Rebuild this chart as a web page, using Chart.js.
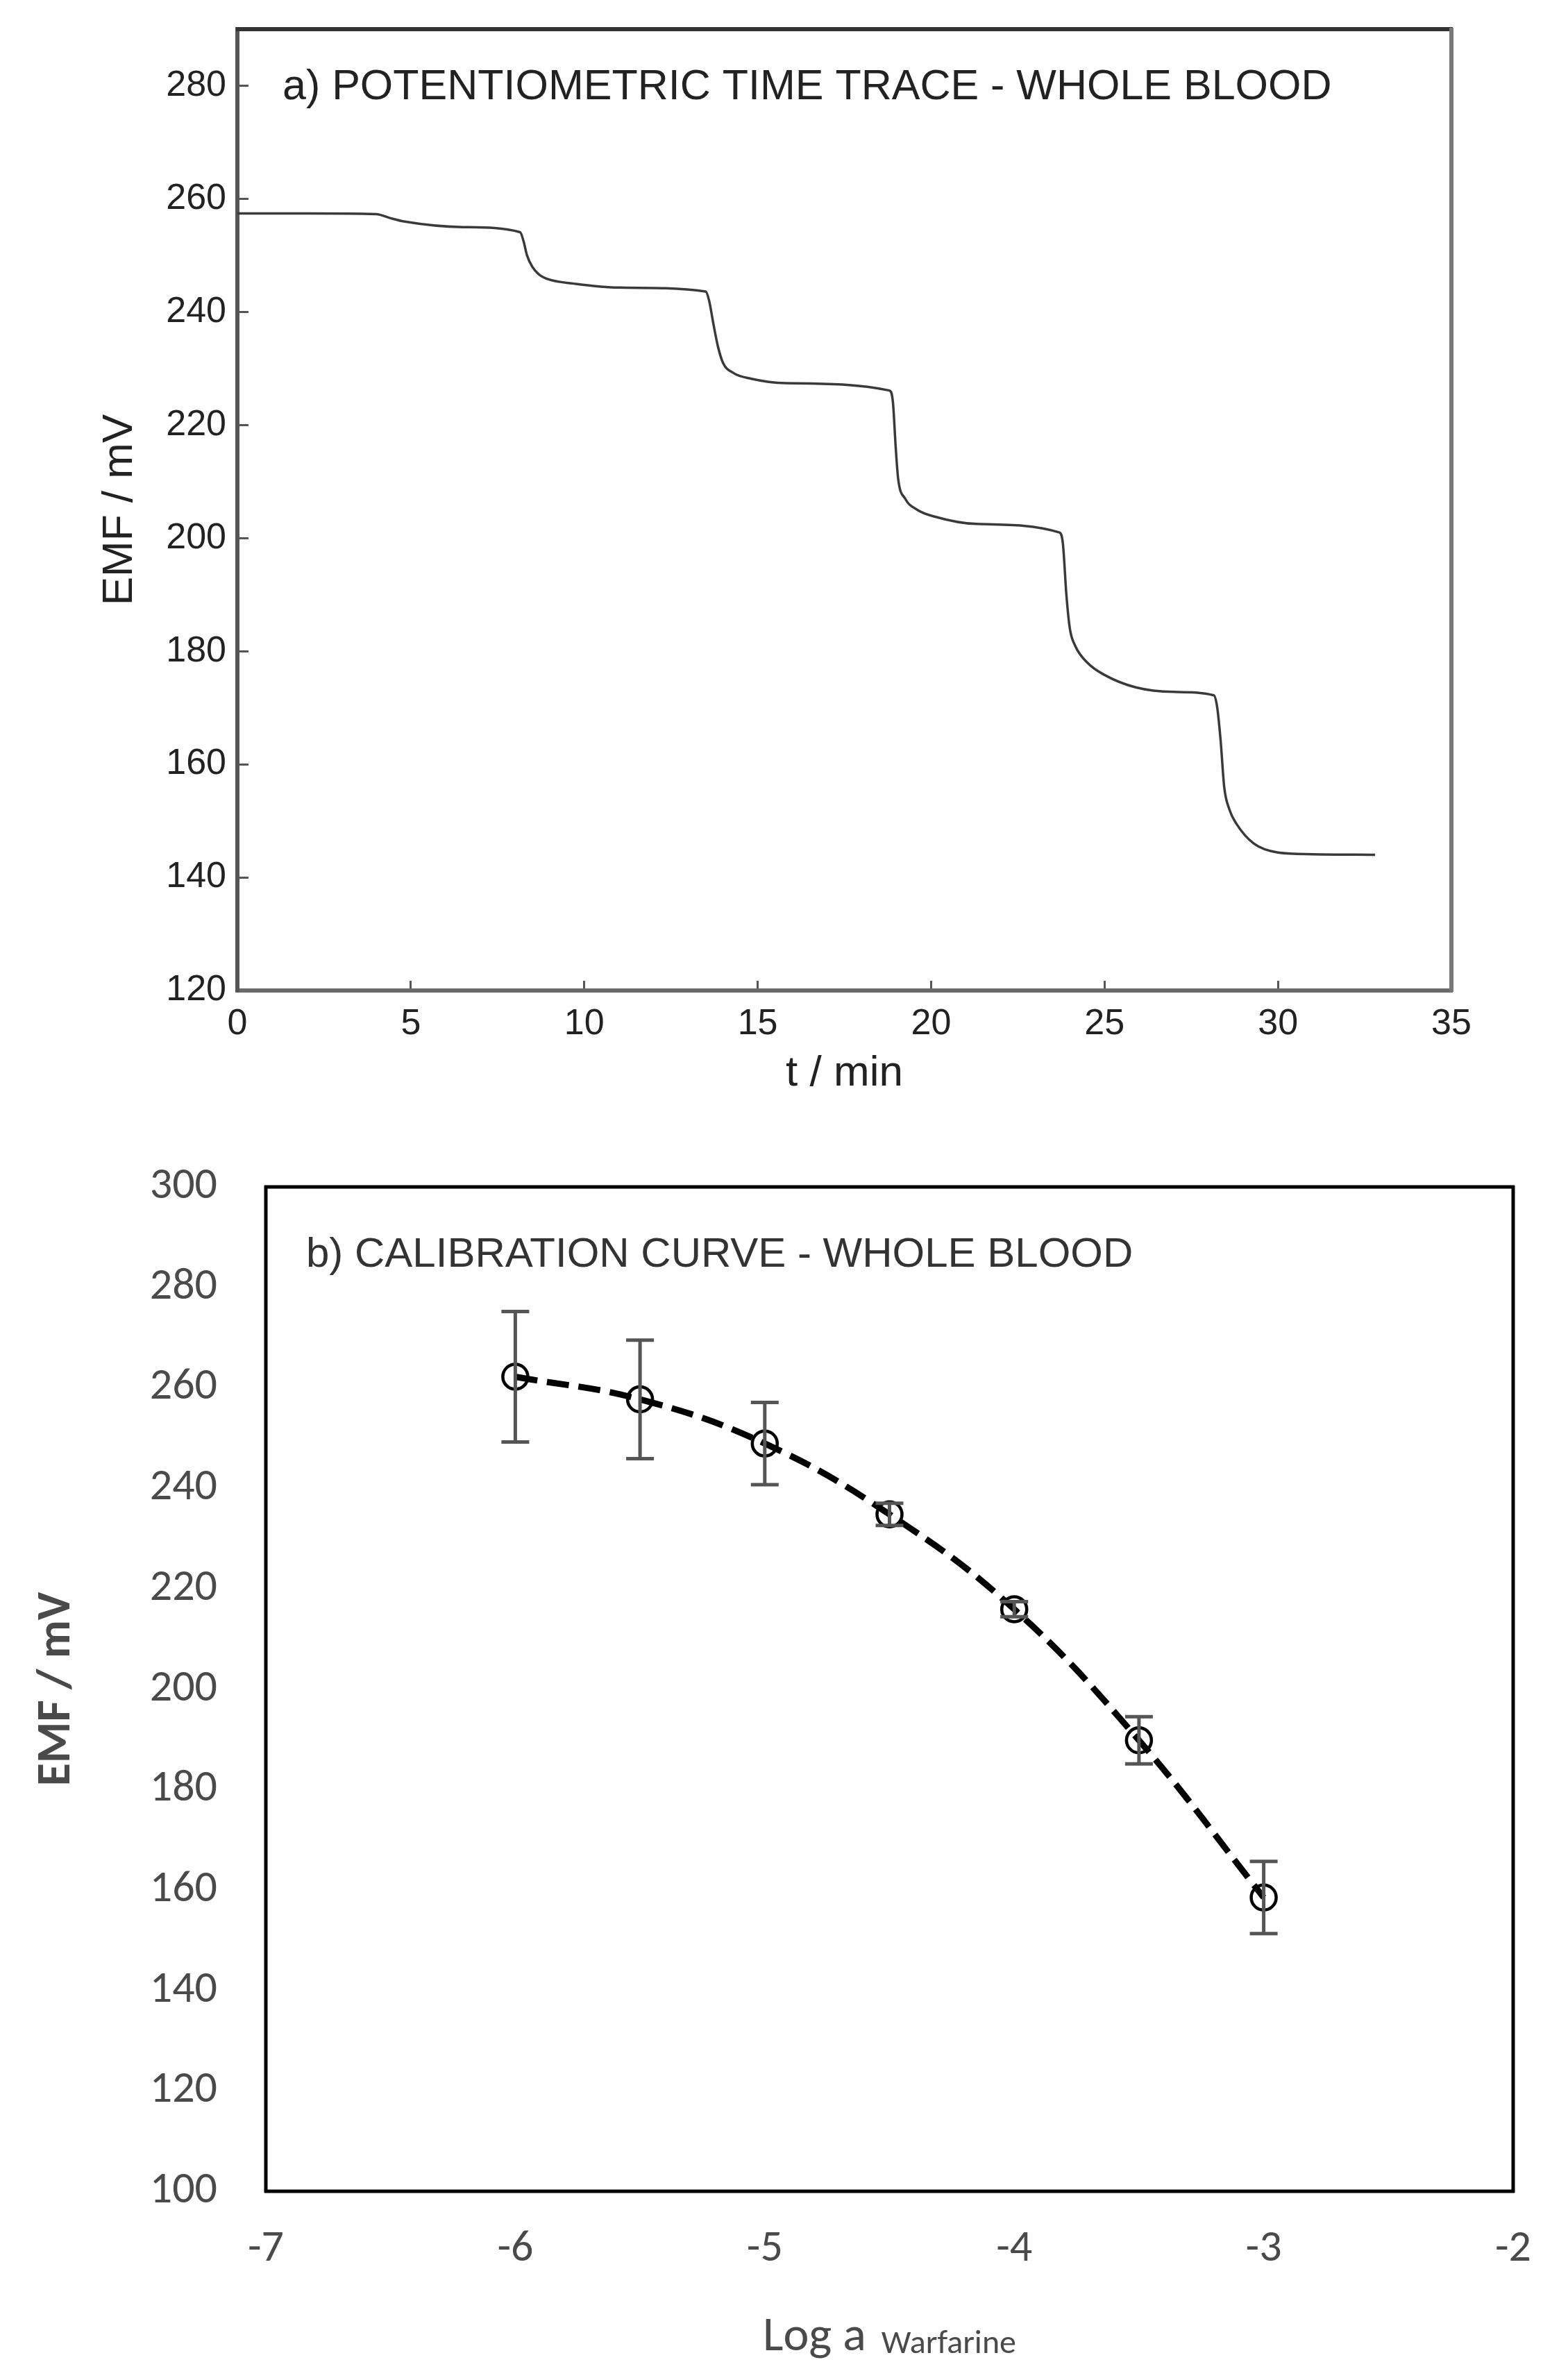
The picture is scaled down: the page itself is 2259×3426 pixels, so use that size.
<!DOCTYPE html>
<html>
<head>
<meta charset="utf-8">
<script src="https://cdn.jsdelivr.net/npm/chart.js@4.4.1/dist/chart.umd.min.js"></script>
<style>
  body { margin: 0; background: #fff; }
  canvas { position: absolute; left: 0; }
  #traceChart { top: 0; }
  #calChart { top: 1640px; }
</style>
</head>
<body>
<canvas id="traceChart" width="2259" height="1640"></canvas>
<canvas id="calChart" width="2259" height="1786"></canvas>
<script>
// a) potentiometric time trace
const traceTime = [0, 2.0, 4.0, 4.4, 4.8, 6.5, 8.15, 8.25, 8.35, 8.5, 8.7, 9.0, 9.7, 11.0, 13.5,
  13.6, 13.72, 13.85, 14.0, 14.3, 14.8, 15.8, 18.8, 18.9, 18.98, 19.05, 19.25, 19.6, 20.1, 21.3, 23.7,
  23.8, 23.9, 24.0, 24.15, 24.5, 25.0, 25.9, 27.0, 28.15, 28.25, 28.35, 28.45, 28.6, 28.8, 29.3, 30.0, 31.0, 32.8];
const traceEmf = [257.4, 257.4, 257.3, 256.6, 256.0, 255.0, 254.1, 252.5, 250.0, 248.0, 246.6, 245.7, 245.0, 244.3, 243.6,
  242.0, 238.0, 234.0, 231.0, 229.2, 228.2, 227.4, 226.1, 224.0, 216.0, 210.5, 207.0, 205.0, 203.8, 202.5, 201.0,
  199.0, 190.0, 184.0, 181.0, 178.0, 175.8, 173.6, 172.8, 172.2, 170.0, 164.0, 156.0, 152.0, 149.5, 146.0, 144.4, 144.1, 144.0];
const traceXTicks = [0, 5, 10, 15, 20, 25, 30, 35];
const traceYTicks = [120, 140, 160, 180, 200, 220, 240, 260, 280];

// b) calibration curve
const logA = [-6, -5.5, -5, -4.5, -4, -3.5, -3];
const calEmf = [262.2, 257.7, 248.9, 234.8, 215.9, 189.8, 158.5];
const calErr = [13.0, 11.8, 8.2, 2.2, 1.5, 4.7, 7.2];
const calXTicks = [-7, -6, -5, -4, -3, -2];
const calYTicks = [100, 120, 140, 160, 180, 200, 220, 240, 260, 280, 300];

const arial = 'Liberation Sans, Arial, sans-serif';
const calibri = 'Carlito, Lato, sans-serif';

const panelTitle = {
  id: 'panelTitle',
  afterDraw(chart, args, o) {
    const { ctx, chartArea } = chart;
    ctx.save();
    ctx.font = o.font;
    ctx.fillStyle = o.color;
    ctx.textAlign = 'left';
    ctx.textBaseline = 'middle';
    ctx.fillText(o.text, chartArea.left + o.dx, chartArea.top + o.dy);
    ctx.restore();
  }
};

const frame = {
  id: 'frame',
  afterDraw(chart, args, o) {
    const { ctx, chartArea: a } = chart;
    ctx.save();
    o.sides.forEach(s => {
      ctx.strokeStyle = s.color;
      ctx.lineWidth = s.width;
      ctx.beginPath();
      if (s.side === 'top') { ctx.moveTo(a.left - 2, a.top); ctx.lineTo(a.right + 2, a.top); }
      if (s.side === 'right') { ctx.moveTo(a.right, a.top - 2); ctx.lineTo(a.right, a.bottom + 2); }
      if (s.side === 'bottom') { ctx.moveTo(a.left - 2, a.bottom); ctx.lineTo(a.right + 2, a.bottom); }
      if (s.side === 'left') { ctx.moveTo(a.left, a.top - 2); ctx.lineTo(a.left, a.bottom + 2); }
      ctx.stroke();
    });
    ctx.restore();
  }
};

const errorBars = {
  id: 'errorBars',
  afterDatasetsDraw(chart, args, o) {
    const { ctx, scales: { x, y } } = chart;
    ctx.save();
    ctx.strokeStyle = o.color;
    ctx.lineWidth = o.width;
    logA.forEach((v, i) => {
      const px = x.getPixelForValue(v);
      const top = y.getPixelForValue(calEmf[i] + calErr[i]);
      const bot = y.getPixelForValue(calEmf[i] - calErr[i]);
      ctx.beginPath();
      ctx.moveTo(px, top); ctx.lineTo(px, bot);
      ctx.moveTo(px - o.cap, top); ctx.lineTo(px + o.cap, top);
      ctx.moveTo(px - o.cap, bot); ctx.lineTo(px + o.cap, bot);
      ctx.stroke();
    });
    ctx.restore();
  }
};

const subTitle = {
  id: 'subTitle',
  afterDraw(chart, args, o) {
    const { ctx, chartArea: a } = chart;
    ctx.save();
    ctx.fillStyle = o.color;
    ctx.textBaseline = 'alphabetic';
    ctx.textAlign = 'left';
    ctx.font = o.mainFont;
    const w1 = ctx.measureText(o.main).width;
    ctx.font = o.subFont;
    const w2 = ctx.measureText(o.sub).width;
    const x0 = (a.left + a.right) / 2 - (w1 + o.gap + w2) / 2;
    ctx.font = o.mainFont;
    ctx.fillText(o.main, x0, a.bottom + o.dy);
    ctx.font = o.subFont;
    ctx.fillText(o.sub, x0 + w1 + o.gap, a.bottom + o.dy + o.subDy);
    ctx.restore();
  }
};

// pin the plot area: fixed axis size, no extra label padding
const fixY = w => s => { s.width = w; s.paddingTop = 0; s.paddingBottom = 0; };
const fixX = h => s => { s.height = h; s.paddingLeft = 0; s.paddingRight = 0; };

new Chart(document.getElementById('traceChart'), {
  type: 'scatter',
  data: {
    datasets: [{
      data: traceTime.map((t, i) => ({ x: t, y: traceEmf[i] })),
      showLine: true,
      borderColor: '#3a3a3a',
      borderWidth: 3.5,
      pointRadius: 0,
      cubicInterpolationMode: 'monotone'
    }]
  },
  options: {
    responsive: false,
    animation: false,
    devicePixelRatio: 1,
    layout: { padding: { top: 42, right: 168, left: 0, bottom: 0 } },
    plugins: {
      legend: { display: false },
      tooltip: { enabled: false },
      panelTitle: { text: 'a) POTENTIOMETRIC TIME TRACE - WHOLE BLOOD', font: '61px ' + arial, color: '#222', dx: 65, dy: 84 },
      frame: { sides: [{ side: 'top', color: '#333', width: 6 }, { side: 'right', color: '#777', width: 6 }] }
    },
    scales: {
      x: {
        type: 'linear', min: 0, max: 35,
        afterBuildTicks: s => { s.ticks = traceXTicks.map(v => ({ value: v })); },
        afterFit: fixX(213),
        grid: { drawOnChartArea: false, drawTicks: true, tickLength: -14, color: '#555', lineWidth: 3 },
        border: { color: '#6a6a6a', width: 6 },
        ticks: { color: '#222', font: { family: arial, size: 52 }, padding: 31, maxRotation: 0, autoSkip: false },
        title: { display: true, text: 't / min', color: '#222', font: { family: arial, size: 62 }, padding: { bottom: 56 } }
      },
      y: {
        min: 120, max: 290,
        afterBuildTicks: s => { s.ticks = traceYTicks.map(v => ({ value: v })); },
        afterFit: fixY(342),
        grid: { drawOnChartArea: false, drawTicks: true, tickLength: -16, color: '#555', lineWidth: 3 },
        border: { color: '#555', width: 6 },
        ticks: { color: '#222', font: { family: arial, size: 52 }, padding: 32, autoSkip: false },
        title: { display: true, text: 'EMF / mV', color: '#222', font: { family: arial, size: 62 }, padding: { top: 136 } }
      }
    }
  },
  plugins: [panelTitle, frame]
});

const calPoints = logA.map((v, i) => ({ x: v, y: calEmf[i] }));

new Chart(document.getElementById('calChart'), {
  type: 'scatter',
  data: {
    datasets: [{
      data: calPoints,
      showLine: true,
      borderColor: '#000',
      borderWidth: 9,
      borderDash: [32, 14],
      tension: 0.4,
      pointRadius: 0
    }, {
      data: calPoints,
      showLine: false,
      pointRadius: 18,
      pointBorderWidth: 4.5,
      pointBorderColor: '#000',
      pointBackgroundColor: 'rgba(0,0,0,0)'
    }]
  },
  options: {
    responsive: false,
    animation: false,
    devicePixelRatio: 1,
    layout: { padding: { top: 70, right: 79, left: 0, bottom: 0 } },
    plugins: {
      legend: { display: false },
      tooltip: { enabled: false },
      panelTitle: { text: 'b) CALIBRATION CURVE - WHOLE BLOOD', font: '60px ' + arial, color: '#333', dx: 58, dy: 98 },
      frame: { sides: ['top', 'right', 'bottom', 'left'].map(s => ({ side: s, color: '#000', width: 5 })) },
      errorBars: { color: '#555', width: 5, cap: 20 },
      subTitle: { main: 'Log a', sub: 'Warfarine', mainFont: '70px ' + calibri, subFont: '48px ' + calibri,
        color: '#4a4a4a', gap: 22, dy: 229, subDy: 4 }
    },
    scales: {
      x: {
        type: 'linear', min: -7, max: -2,
        afterBuildTicks: s => { s.ticks = calXTicks.map(v => ({ value: v })); },
        afterFit: fixX(269),
        grid: { display: false, drawTicks: false },
        border: { display: false },
        ticks: { color: '#4a4a4a', font: { family: calibri, size: 64 }, padding: 46, maxRotation: 0, autoSkip: false }
      },
      y: {
        min: 100, max: 300,
        afterBuildTicks: s => { s.ticks = calYTicks.map(v => ({ value: v })); },
        afterFit: fixY(383),
        grid: { display: false, drawTicks: false },
        border: { display: false },
        ticks: { color: '#4a4a4a', font: { family: calibri, size: 64 }, padding: 70, autoSkip: false },
        title: { display: true, text: 'EMF / mV', color: '#4a4a4a', font: { family: calibri, size: 68, weight: 'bold' }, padding: { top: 42 } }
      }
    }
  },
  plugins: [panelTitle, frame, errorBars, subTitle]
});
</script>
</body>
</html>
